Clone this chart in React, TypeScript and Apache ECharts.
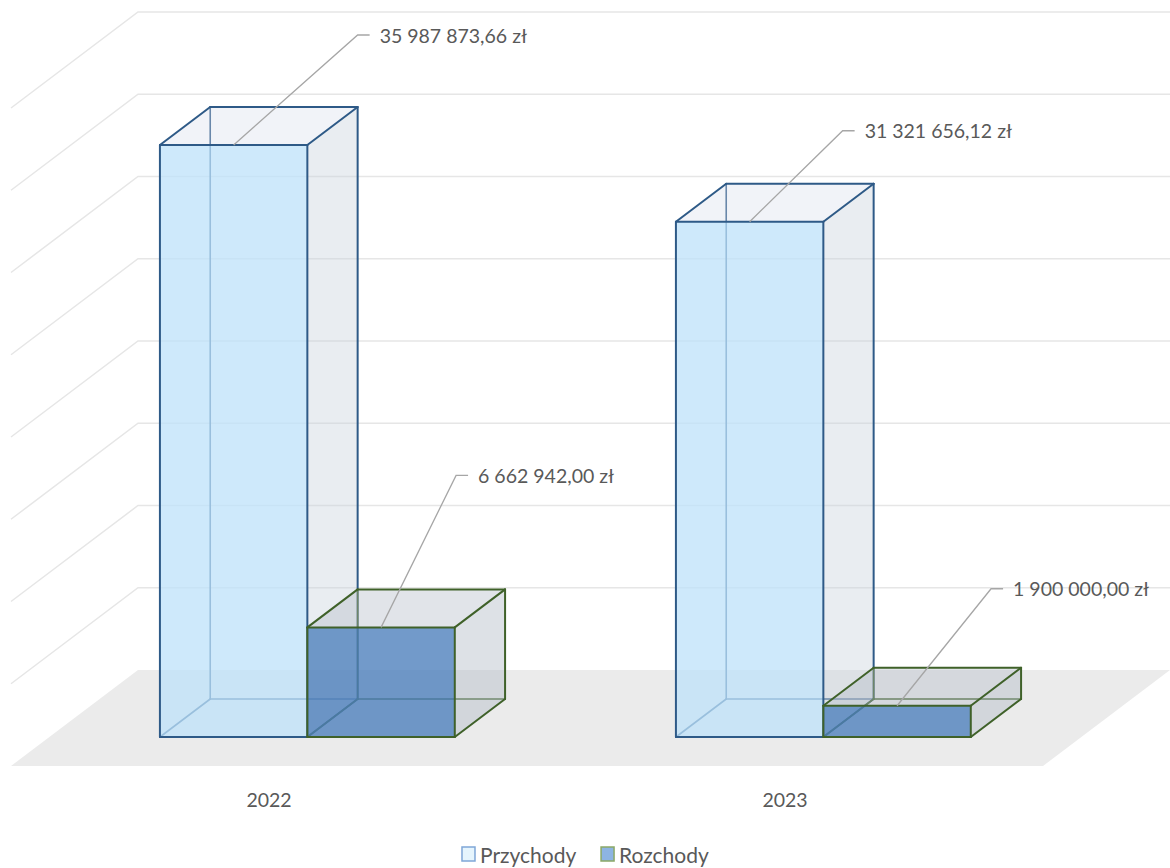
import React, { useEffect, useRef } from "react";
import * as echarts from "echarts";

const categories = ["2022", "2023"];
const seriesNames = ["Przychody", "Rozchody"];
const przychody = [35987873.66, 31321656.12];
const rozchody = [6662942.0, 1900000.0];
const yMax = 40000000;
const yStep = 5000000;

// label leader elbow offsets (px) relative to the top-front edge centre of each box
const labelOffsets = [
  [[124, -110], [93, -91]],
  [[75, -152], [94, -117]],
];

const DEPTH_X = -127; // full floor depth projection
const DEPTH_Y = 96;
const D_FRONT = 0.698;
const D_BACK = 0.302;
const FONT = "Lato, 'Open Sans', sans-serif";
const TEXT_COLOR = "#595959";
const LABEL_SIZE = 19.5;

const boxStyles = [
  {
    front: "rgba(190,226,250,0.75)",
    side: "rgba(200,210,220,0.4)",
    top: "rgba(215,222,235,0.35)",
    edge: "#2E5A87",
  },
  {
    front: "rgba(79,129,189,0.8)",
    side: "rgba(180,188,200,0.45)",
    top: "rgba(180,188,200,0.4)",
    edge: "#3F6129",
  },
];

function fmt(v: number) {
  const [i, d] = v.toFixed(2).split(".");
  return i.replace(/\B(?=(\d{3})+(?!\d))/g, " ") + "," + d + " zł";
}

function proj(x: number, y: number, d: number) {
  return [x + DEPTH_X * d, y + DEPTH_Y * d];
}

function makeBoxRender(sIdx: number) {
  return (params: any, api: any) => {
    const ci = api.value(0);
    const v = api.value(1);
    const base = api.coord([ci, 0]);
    const topP = api.coord([ci, v]);
    const band = api.size([1, 0])[0];
    const bw = band / 3.5;
    const xL = base[0] + (sIdx === 0 ? -bw : 0);
    const xR = xL + bw;
    const y0 = base[1];
    const y1 = topP[1];
    const st = boxStyles[sIdx];
    const fbl = proj(xL, y0, D_FRONT), fbr = proj(xR, y0, D_FRONT);
    const ftl = proj(xL, y1, D_FRONT), ftr = proj(xR, y1, D_FRONT);
    const bbl = proj(xL, y0, D_BACK), bbr = proj(xR, y0, D_BACK);
    const btl = proj(xL, y1, D_BACK), btr = proj(xR, y1, D_BACK);
    const line = (a: number[], b: number[], w = 2) => ({
      type: "line",
      silent: true,
      shape: { x1: a[0], y1: a[1], x2: b[0], y2: b[1] },
      style: { stroke: st.edge, lineWidth: w, lineCap: "round" },
    });
    const poly = (pts: number[][], fill: string) => ({
      type: "polygon",
      silent: true,
      shape: { points: pts },
      style: { fill, stroke: "none" },
    });
    const children: any[] = [
      // hidden edges
      line(bbl, btl, 1.6),
      line(bbl, bbr, 1.6),
      line(fbl, bbl, 1.6),
      // faces
      poly([fbr, bbr, btr, ftr], st.side),
      poly([ftl, ftr, btr, btl], st.top),
      poly([fbl, fbr, ftr, ftl], st.front),
      // visible edges
      line(fbl, fbr),
      line(fbr, ftr),
      line(ftr, ftl),
      line(ftl, fbl),
      line(ftl, btl),
      line(btl, btr),
      line(btr, ftr),
      line(btr, bbr),
      line(bbr, fbr),
    ];
    // data label with leader line
    const sx = (ftl[0] + ftr[0]) / 2;
    const sy = ftl[1];
    const off = labelOffsets[sIdx][ci];
    const ex = sx + off[0];
    const ey = sy + off[1];
    children.push({
      type: "polyline",
      silent: true,
      shape: { points: [[sx, sy], [ex, ey], [ex + 12, ey]] },
      style: { stroke: "#A6A6A6", lineWidth: 1.3, fill: "none" },
    });
    children.push({
      type: "text",
      silent: true,
      style: {
        text: fmt(v),
        x: ex + 22,
        y: ey,
        fill: TEXT_COLOR,
        fontSize: LABEL_SIZE,
        fontFamily: FONT,
        align: "left",
        verticalAlign: "middle",
      },
    });
    return { type: "group", children };
  };
}

function renderFloor(params: any, api: any) {
  const cs = params.coordSys;
  const ci = api.value(0);
  const children: any[] = [];
  if (ci === 0) {
    const x0 = cs.x;
    const x1 = cs.x + cs.width;
    const y0 = cs.y + cs.height;
    children.push({
      type: "polygon",
      silent: true,
      shape: { points: [proj(x0, y0, 0), proj(x1, y0, 0), proj(x1, y0, 1), proj(x0, y0, 1)] },
      style: { fill: "#EBEBEB", stroke: "none" },
    });
    for (let v = yStep; v <= yMax; v += yStep) {
      const p = api.coord([0, v]);
      const y = p[1];
      const a = proj(x0, y, 0);
      const b = proj(x0, y, 1);
      children.push({
        type: "polyline",
        silent: true,
        shape: { points: [b, a, [x1, y]] },
        style: { stroke: "#E6E6E6", lineWidth: 1.5, fill: "none" },
      });
    }
  }
  const c = api.coord([ci, 0]);
  const lp = proj(c[0], c[1], 1);
  children.push({
    type: "text",
    silent: true,
    style: {
      text: categories[ci],
      x: lp[0],
      y: lp[1] + 33,
      fill: TEXT_COLOR,
      fontSize: LABEL_SIZE,
      fontFamily: FONT,
      align: "center",
      verticalAlign: "middle",
    },
  });
  return { type: "group", children };
}

export default function App() {
  const ref = useRef<HTMLDivElement>(null);
  useEffect(() => {
    if (!ref.current) return;
    const chart = echarts.init(ref.current, undefined, { renderer: "svg" });
    chart.setOption({
      animation: false,
      backgroundColor: "#ffffff",
      grid: { left: 138, width: 1034, top: 12, bottom: 198 },
      xAxis: {
        type: "category",
        data: categories,
        show: false,
      },
      yAxis: {
        type: "value",
        min: 0,
        max: yMax,
        interval: yStep,
        show: false,
      },
      legend: {
        top: 842,
        left: "center",
        padding: 0,
        icon: "rect",
        itemWidth: 13,
        itemHeight: 14,
        itemGap: 24,
        textStyle: { color: TEXT_COLOR, fontSize: 21, fontFamily: FONT, lineHeight: 24 },
        data: [
          { name: seriesNames[0], itemStyle: { color: "#E6F5FD", borderColor: "#7FA7D7", borderWidth: 1.5 } },
          { name: seriesNames[1], itemStyle: { color: "#8DB4E2", borderColor: "#8BA867", borderWidth: 1.5 } },
        ],
      },
      series: [
        {
          type: "custom",
          name: "floor",
          renderItem: renderFloor,
          data: categories.map((_, i) => [i, 0]),
          encode: { x: 0, y: 1 },
          silent: true,
          z: 1,
        },
        {
          type: "custom",
          name: seriesNames[0],
          renderItem: makeBoxRender(0),
          data: przychody.map((v, i) => [i, v]),
          encode: { x: 0, y: 1 },
          itemStyle: { color: "#E6F5FD" },
          z: 2,
        },
        {
          type: "custom",
          name: seriesNames[1],
          renderItem: makeBoxRender(1),
          data: rozchody.map((v, i) => [i, v]),
          encode: { x: 0, y: 1 },
          itemStyle: { color: "#8DB4E2" },
          z: 3,
        },
      ],
    });
    return () => chart.dispose();
  }, []);
  return (
    <div
      ref={ref}
      style={{ position: "absolute", left: 0, top: 0, width: 1170, height: 868 }}
    />
  );
}
